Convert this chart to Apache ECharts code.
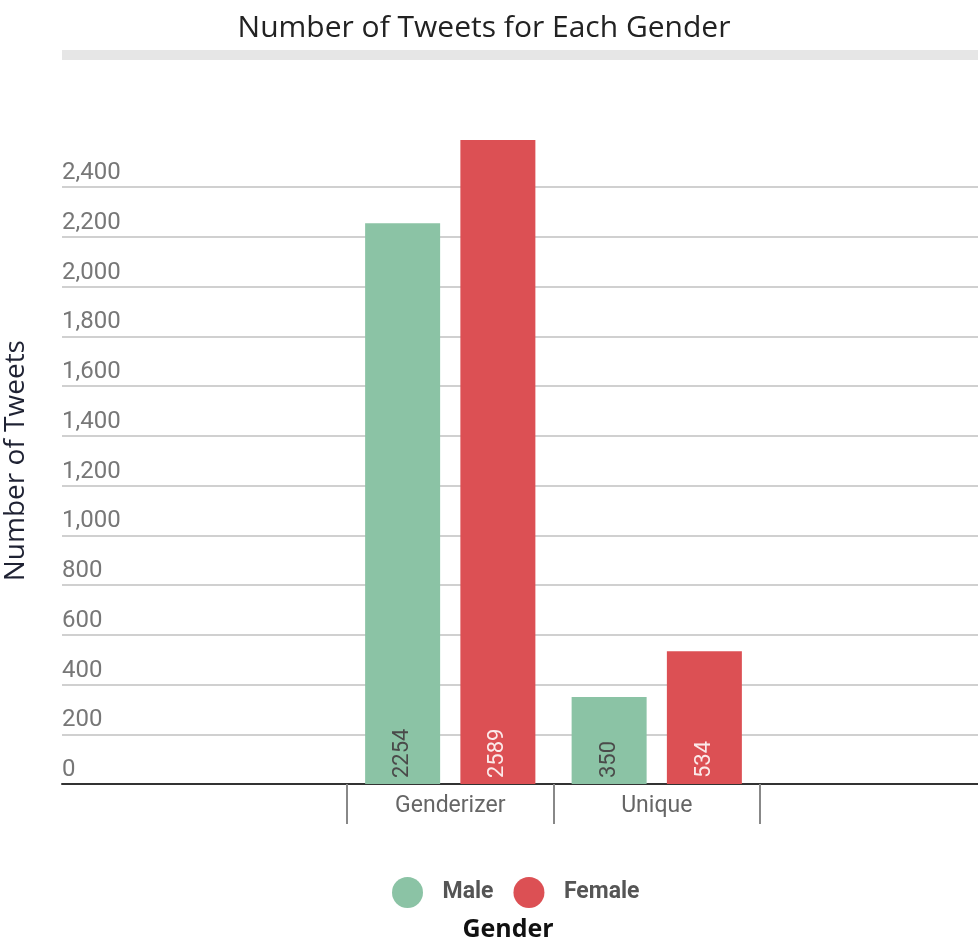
<!DOCTYPE html>
<html>
<head>
<meta charset="utf-8">
<style>
  html, body { margin: 0; padding: 0; background: #fff; }
  #chart { width: 978px; height: 939px; }
</style>
<script src="https://cdn.jsdelivr.net/npm/echarts@6/dist/echarts.min.js"></script>
</head>
<body>
<div id="chart"></div>
<script>
// data
var categories = ['Genderizer', 'Unique'];
var maleValues = [2254, 350];
var femaleValues = [2589, 534];
var seriesNames = ['Male', 'Female'];

var myChart = echarts.init(document.getElementById('chart'));

var labelFont = 'Roboto, "Noto Sans", sans-serif';
var headFont = '"Open Sans", "Noto Sans", sans-serif';

function commas(v) {
    return String(v).replace(/\B(?=(\d{3})+(?!\d))/g, ',');
}

// label style for values inside bars
function barLabel(color) {
    return {
        show: true,
        position: 'insideBottom',
        rotate: 90,
        align: 'left',
        verticalAlign: 'middle',
        distance: 6,
        fontFamily: labelFont,
        fontSize: 22,
        color: color
    };
}

var option = {
    animation: false,
    title: [{
        text: 'Number of Tweets for Each Gender',
        left: 479,
        top: 8,
        textAlign: 'center',
        textStyle: { fontFamily: headFont, fontSize: 30, fontWeight: 'normal', color: '#222' }
    }, {
        text: 'Gender',
        left: 503,
        top: 912,
        textAlign: 'center',
        textStyle: { fontFamily: headFont, fontSize: 25, fontWeight: 'bold', color: '#111' }
    }],
    graphic: [{
        type: 'rect',
        shape: { x: 62, y: 50, width: 916, height: 10 },
        style: { fill: '#e6e6e6' }
    }],
    legend: {
        data: seriesNames,
        left: 387,
        top: 872,
        icon: 'circle',
        itemWidth: 32,
        itemHeight: 31,
        itemGap: 20,
        textStyle: {
            fontFamily: labelFont,
            fontSize: 23,
            fontWeight: 'bold',
            color: '#555',
            padding: [0, 0, 0, 14]
        }
    },
    grid: [
        // background grid: gridlines, y labels, base line
        { left: 62, right: 0, top: 187, bottom: 155 },
        // bars
        { left: 347, width: 413, top: 137.25, bottom: 155 }
    ],
    xAxis: [{
        gridIndex: 0,
        type: 'value',
        min: 0,
        max: 1,
        axisLine: { show: true, lineStyle: { color: '#333', width: 2 } },
        axisTick: { show: false },
        axisLabel: { show: false },
        splitLine: { show: false }
    }, {
        gridIndex: 1,
        type: 'category',
        data: categories,
        axisLine: { show: false },
        axisTick: { show: true, length: 40, lineStyle: { color: '#888', width: 2 } },
        axisLabel: { margin: 11, fontFamily: labelFont, fontSize: 23, color: '#666' }
    }],
    yAxis: [{
        gridIndex: 0,
        type: 'value',
        min: 0,
        max: 2400,
        interval: 200,
        axisLine: { show: false },
        axisTick: { show: false },
        axisLabel: {
            inside: true,
            margin: 0,
            align: 'left',
            verticalAlign: 'bottom',
            padding: [0, 0, 2, 0],
            fontFamily: labelFont,
            fontSize: 24,
            color: '#777',
            formatter: commas
        },
        splitLine: { lineStyle: { color: '#d0d0d0', width: 2 } }
    }, {
        gridIndex: 1,
        type: 'value',
        min: 0,
        max: 2600,
        name: 'Number of Tweets',
        nameLocation: 'middle',
        nameGap: 317,
        nameTextStyle: { fontFamily: headFont, fontSize: 28, color: '#1f2233' },
        axisLine: { show: false },
        axisTick: { show: false },
        axisLabel: { show: false },
        splitLine: { show: false }
    }],
    series: [{
        name: seriesNames[0],
        type: 'bar',
        xAxisIndex: 1,
        yAxisIndex: 1,
        data: maleValues,
        barWidth: 75,
        barGap: '27%',
        itemStyle: { color: '#8bc3a5' },
        label: barLabel('#4a4a4a')
    }, {
        name: seriesNames[1],
        type: 'bar',
        xAxisIndex: 1,
        yAxisIndex: 1,
        data: femaleValues,
        barWidth: 75,
        barGap: '27%',
        itemStyle: { color: '#dc5054' },
        label: barLabel('#fbeaea')
    }]
};

myChart.setOption(option);
</script>
</body>
</html>
